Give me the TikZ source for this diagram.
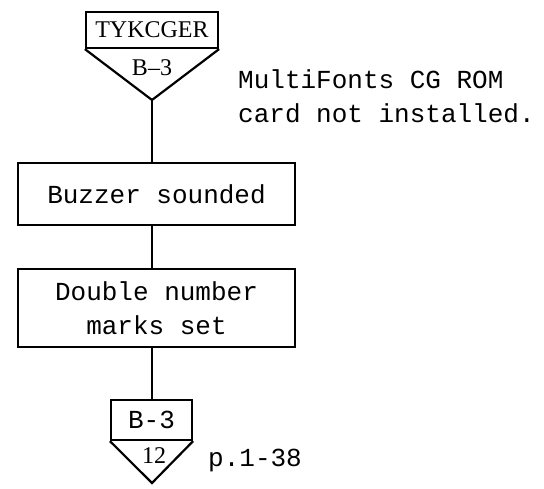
\documentclass[tikz,border=0pt]{standalone}
\usepackage{fontspec}
\setmainfont{Liberation Serif}
\setmonofont{Liberation Mono}
\begin{document}
\begin{tikzpicture}[x=1pt,y=-1pt,
  typed/.style={font=\fontsize{26}{34}\selectfont\ttfamily},
  procbox/.style={draw,line width=2.4pt,inner sep=0pt,align=center,typed},
  conbox/.style={draw,line width=2.2pt,inner sep=0pt},
  conlabel/.style={inner sep=0pt,font=\fontsize{24}{28}\selectfont},
  flow/.style={line width=1.8pt},
  note/.style={inner sep=0pt,anchor=west,align=left,typed}]
\useasboundingbox (0,0) rectangle (544,488);

% entry connector
\node[conbox,minimum width=132pt,minimum height=36pt,conlabel] (entry) at (152,30) {TYKCGER};
\coordinate (entryapex) at (152,100);
\draw[line width=2.2pt,line join=miter] (entry.south west) -- (entryapex) -- (entry.south east);
\node[conlabel] (entrypage) at (152,68) {B--3};

\node[note] (remark) at (238,96) {MultiFonts CG ROM\\card not installed.};

% process steps
\node[procbox,minimum width=277pt,minimum height=62pt] (buzz) at (156.5,194) {Buzzer sounded};
\node[procbox,minimum width=277pt,minimum height=78pt] (marks) at (156.5,308) {Double number\\marks set};

% exit connector
\node[conbox,minimum width=81pt,minimum height=40pt,typed] (exit) at (151.5,420) {B-3};
\coordinate (exitapex) at (152,483);
\draw[line width=2.2pt,line join=miter] (exit.south west) -- (exitapex) -- (exit.south east);
\node[conlabel] (exitnum) at (154,456) {12};
\node[note] (page) at (208,460) {p.1-38};

% flow lines
\draw[flow] (entryapex) -- (entryapex |- buzz.north);
\draw[flow] (entryapex |- buzz.south) -- (entryapex |- marks.north);
\draw[flow] (entryapex |- marks.south) -- (exit.north -| entryapex);
\end{tikzpicture}
\end{document}
